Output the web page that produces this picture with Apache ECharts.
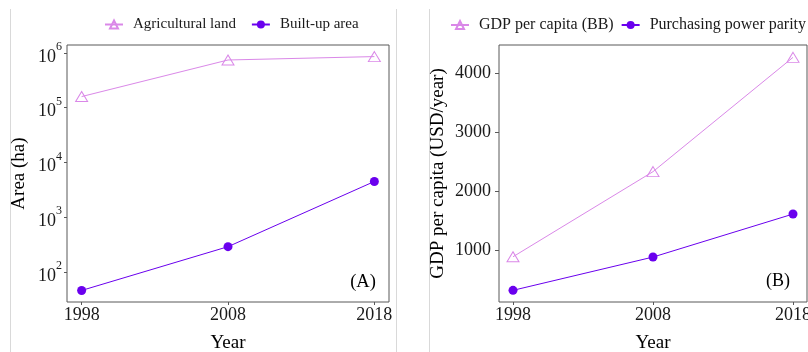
<!DOCTYPE html>
<html>
<head>
<meta charset="utf-8">
<script src="https://cdn.jsdelivr.net/npm/echarts@6/dist/echarts.min.js"></script>
<style>
  html, body { margin: 0; padding: 0; background: #ffffff; }
  #chart { width: 808px; height: 352px; }
</style>
</head>
<body>
<div id="chart"></div>
<script>
// Survey years and x tick labels
const years = [1998, 2008, 2018];
const yearTicks = [1998, 2008, 2018];

// Panel A: land area (ha), log scale
const agriculturalLand = [160000, 745000, 860000];
const builtUpArea = [46, 290, 4500];

// Panel B: GDP per capita (USD/year)
const gdpPerCapitaBB = [885, 2330, 4270];
const purchasingPowerParity = [315, 880, 1610];
const gdpTicks = [1000, 2000, 3000, 4000];

const SERIF = '"Liberation Serif", "Times New Roman", serif';
const PINK = '#DA88E8';
const PURPLE = '#6A00EE';
const BORDER = '#595959';
const LABEL = '#1a1a1a';

const pairs = (vals) => years.map((y, i) => [y, vals[i]]);
const plain = (v) => String(v);

const chart = echarts.init(document.getElementById('chart'), null, { renderer: 'canvas' });

function xAxisFor(gridIndex) {
  return {
    type: 'value', gridIndex: gridIndex, min: 1997, max: 2019,
    name: 'Year', nameLocation: 'middle', nameGap: 32,
    nameTextStyle: { fontFamily: SERIF, fontSize: 19, color: '#000' },
    axisLine: { show: false, onZero: false },
    axisTick: { show: true, length: 3, lineStyle: { color: BORDER }, customValues: yearTicks },
    axisLabel: { fontFamily: SERIF, fontSize: 18, color: LABEL, margin: 4, customValues: yearTicks, formatter: plain },
    splitLine: { show: false }
  };
}

const gridBase = {
  top: 45, height: 257, show: true, borderColor: BORDER, borderWidth: 1,
  backgroundColor: 'transparent', containLabel: false, outerBoundsMode: 'none'
};

const option = {
  animation: false,
  backgroundColor: '#ffffff',
  grid: [
    Object.assign({ left: 67, width: 322 }, gridBase),
    Object.assign({ left: 499, width: 308 }, gridBase)
  ],
  legend: [
    {
      left: 104, top: 17, padding: 0, itemWidth: 18, itemHeight: 10, itemGap: 15,
      data: ['Agricultural land', 'Built-up area'],
      textStyle: { fontFamily: SERIF, fontSize: 15, color: LABEL, padding: [0, 0, 0, 5] }
    },
    {
      left: 450, top: 17, padding: 0, width: 358, itemWidth: 18, itemHeight: 10, itemGap: 7,
      data: ['GDP per capita (BB)', 'Purchasing power parity'],
      textStyle: { fontFamily: SERIF, fontSize: 16, color: LABEL, padding: [0, 0, 0, 5] }
    }
  ],
  xAxis: [xAxisFor(0), xAxisFor(1)],
  yAxis: [
    {
      type: 'log', gridIndex: 0, logBase: 10, min: 28.3, max: 1400000,
      name: 'Area (ha)', nameLocation: 'middle', nameGap: 38,
      nameTextStyle: { fontFamily: SERIF, fontSize: 19, color: '#000' },
      axisLine: { show: false },
      axisTick: { show: true, length: 3, lineStyle: { color: BORDER } },
      axisLabel: {
        showMinLabel: false, showMaxLabel: false, margin: 5,
        formatter: (v) => '{b|10}{s|' + Math.round(Math.log10(v)) + '}',
        rich: {
          b: { fontFamily: SERIF, fontSize: 18, color: LABEL, lineHeight: 18, padding: [8, 0, 0, 0] },
          s: { fontFamily: SERIF, fontSize: 12, color: LABEL, lineHeight: 12, padding: [0, 0, 9, 0], verticalAlign: 'bottom' }
        }
      },
      splitLine: { show: false }
    },
    {
      type: 'value', gridIndex: 1, min: 117, max: 4480,
      name: 'GDP per capita (USD/year)', nameLocation: 'middle', nameGap: 51,
      nameTextStyle: { fontFamily: SERIF, fontSize: 19, color: '#000' },
      axisLine: { show: false },
      axisTick: { show: true, length: 4, lineStyle: { color: BORDER }, customValues: gdpTicks },
      axisLabel: { fontFamily: SERIF, fontSize: 18, color: LABEL, margin: 8, customValues: gdpTicks, formatter: plain },
      splitLine: { show: false }
    }
  ],
  series: [
    {
      name: 'Agricultural land', type: 'line', xAxisIndex: 0, yAxisIndex: 0,
      data: pairs(agriculturalLand),
      symbol: 'triangle', symbolSize: [12, 10],
      itemStyle: { color: 'rgba(255,255,255,0)', borderColor: PINK, borderWidth: 1 },
      lineStyle: { color: PINK, width: 1 }
    },
    {
      name: 'Built-up area', type: 'line', xAxisIndex: 0, yAxisIndex: 0,
      data: pairs(builtUpArea),
      symbol: 'circle', symbolSize: 9,
      itemStyle: { color: PURPLE, borderWidth: 0 },
      lineStyle: { color: PURPLE, width: 1 }
    },
    {
      name: 'GDP per capita (BB)', type: 'line', xAxisIndex: 1, yAxisIndex: 1,
      data: pairs(gdpPerCapitaBB),
      symbol: 'triangle', symbolSize: [12, 10],
      itemStyle: { color: 'rgba(255,255,255,0)', borderColor: PINK, borderWidth: 1 },
      lineStyle: { color: PINK, width: 1 }
    },
    {
      name: 'Purchasing power parity', type: 'line', xAxisIndex: 1, yAxisIndex: 1,
      data: pairs(purchasingPowerParity),
      symbol: 'circle', symbolSize: 9,
      itemStyle: { color: PURPLE, borderWidth: 0 },
      lineStyle: { color: PURPLE, width: 1 }
    }
  ],
  graphic: [
    { type: 'line', shape: { x1: 10.5, y1: 9, x2: 10.5, y2: 352 }, style: { stroke: '#d9d9d9', lineWidth: 1 }, silent: true },
    { type: 'line', shape: { x1: 396.5, y1: 9, x2: 396.5, y2: 352 }, style: { stroke: '#d9d9d9', lineWidth: 1 }, silent: true },
    { type: 'line', shape: { x1: 429.5, y1: 9, x2: 429.5, y2: 352 }, style: { stroke: '#d9d9d9', lineWidth: 1 }, silent: true },
    { type: 'text', x: 363, y: 282, style: { text: '(A)', font: '18.5px ' + SERIF, fill: '#000', textAlign: 'center', textVerticalAlign: 'middle' }, silent: true },
    { type: 'text', x: 778, y: 281, style: { text: '(B)', font: '18px ' + SERIF, fill: '#000', textAlign: 'center', textVerticalAlign: 'middle' }, silent: true }
  ]
};

chart.setOption(option);
</script>
</body>
</html>
